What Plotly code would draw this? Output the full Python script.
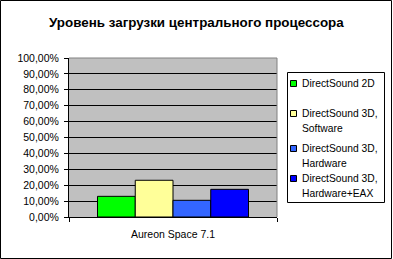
import plotly.graph_objects as go

title = "Уровень загрузки центрального процессора"
categories = ["Aureon Space 7.1"]
series_names = ["DirectSound 2D", "DirectSound 3D,<br>Software",
                "DirectSound 3D,<br>Hardware", "DirectSound 3D,<br>Hardware+EAX"]
series_values = [[0.13], [0.231], [0.105], [0.174]]
series_colors = ["#00FF00", "#FFFF99", "#3366FF", "#0000FF"]
y_ticks = [i / 10 for i in range(11)]

W, H = 393, 259
L, R, T, B = 69, 277, 58, 217
PW, PH = R - L, B - T
FONT = "Arial, Liberation Sans, sans-serif"

def px(x):
    return (x - L) / PW

def py(y):
    return (B - y) / PH

fig = go.Figure()
for name, vals, col in zip(series_names, series_values, series_colors):
    fig.add_trace(go.Bar(x=categories, y=vals, name=name.replace("<br>", " "),
                         marker=dict(color=col, line=dict(color="black", width=1))))

shapes = []
annotations = []
# plot area border (gray top/right)
shapes.append(dict(type="line", xref="paper", yref="paper", x0=0, x1=1, y0=1, y1=1,
                   line=dict(color="#808080", width=1), layer="above"))
shapes.append(dict(type="line", xref="paper", yref="paper", x0=1, x1=1, y0=0, y1=1,
                   line=dict(color="#808080", width=1), layer="above"))
# chart outer border
shapes.append(dict(type="rect", xref="paper", yref="paper",
                   x0=px(0.5), x1=px(391.5), y0=py(258.5), y1=py(0.5),
                   line=dict(color="black", width=1)))
# legend box
shapes.append(dict(type="rect", xref="paper", yref="paper",
                   x0=px(287.5), x1=px(384.5), y0=py(202.5), y1=py(72.5),
                   line=dict(color="black", width=1), fillcolor="white"))
entry_y = [83, 113, 148, 178]
line_h = 15.5
for name, col, ey in zip(series_names, series_colors, entry_y):
    shapes.append(dict(type="rect", xref="paper", yref="paper",
                       x0=px(290.5), x1=px(296.5), y0=py(ey + 3.5), y1=py(ey - 2.5),
                       line=dict(color="black", width=1), fillcolor=col))
    for i, ln in enumerate(name.split("<br>")):
        annotations.append(dict(xref="paper", yref="paper", x=px(299.5), y=py(ey + i * line_h),
                                text=ln, showarrow=False, xanchor="left", yanchor="middle",
                                font=dict(family=FONT, size=10.3, color="black")))

annotations.append(dict(xref="paper", yref="paper", x=px(196), y=py(22), text="<b>" + title + "</b>",
                        showarrow=False, xanchor="center", yanchor="middle",
                        font=dict(family=FONT, size=13.4, color="black")))

fig.update_layout(
    width=W, height=H,
    margin=dict(l=L, r=W - R, t=T, b=H - B, pad=0),
    paper_bgcolor="white", plot_bgcolor="#C0C0C0",
    barmode="group", bargap=0.274, bargroupgap=0,
    showlegend=False,
    separators=", ",
    font=dict(family=FONT, size=10.5, color="black"),
    shapes=shapes, annotations=annotations,
    xaxis=dict(type="category", showline=True, linecolor="black", linewidth=1,
               ticks="outside", tickson="boundaries", ticklen=4, tickcolor="black",
               showgrid=False, tickfont=dict(size=10.5), ticklabelstandoff=7),
    yaxis=dict(range=[0, 1], tickvals=y_ticks, tickformat=".2%", showline=True,
               linecolor="black", linewidth=1, ticks="outside", ticklen=4, tickcolor="black",
               showgrid=True, gridcolor="black", gridwidth=1, zeroline=False,
               tickfont=dict(size=10.5), ticklabelstandoff=3),
)

fig.write_html("out.html")
